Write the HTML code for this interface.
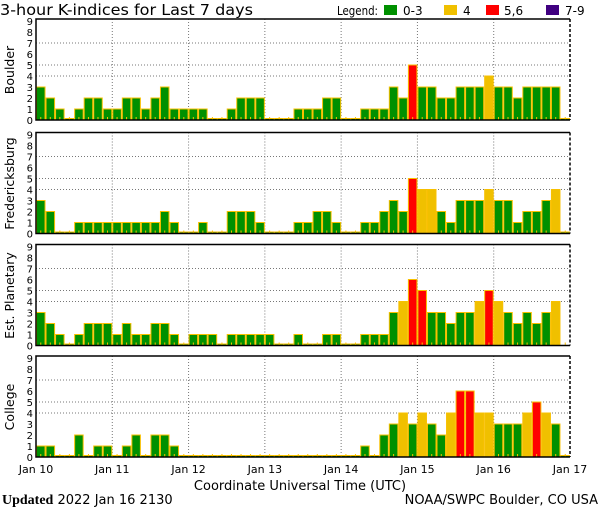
<!DOCTYPE html>
<html><head><meta charset="utf-8"><style>
body{margin:0;background:#fff;}
svg{display:block;font-family:"DejaVu Sans","Liberation Sans",sans-serif;}
</style></head><body>
<svg id="c" width="600" height="510" viewBox="0 0 600 510">
<text x="0" y="15" font-size="15.5" textLength="253" lengthAdjust="spacingAndGlyphs">3-hour K-indices for Last 7 days</text>
<g font-size="12">
<text x="337" y="15" textLength="41" lengthAdjust="spacingAndGlyphs">Legend:</text>
<rect x="384" y="5" width="13" height="10" fill="#009000"/>
<text x="403" y="15">0-3</text>
<rect x="444" y="5" width="13" height="10" fill="#f0c000"/>
<text x="463" y="15">4</text>
<rect x="486" y="5" width="13" height="10" fill="#ff0000"/>
<text x="504" y="15">5,6</text>
<rect x="546" y="5" width="13" height="10" fill="#400080"/>
<text x="565" y="15">7-9</text>
</g>
<text x="300" y="490" font-size="13" text-anchor="middle">Coordinate Universal Time (UTC)</text>
<text x="2" y="504" font-size="13"><tspan font-family="Liberation Serif,serif" font-weight="bold" font-size="14">Updated</tspan> 2022 Jan 16 2130</text>
<text x="598" y="504" font-size="13" text-anchor="end">NOAA/SWPC Boulder, CO USA</text>
</svg>
<script>
const stations = ["Boulder","Fredericksburg","Est. Planetary","College"];
const boulder = [3,2,1,0,1,2,2,1,1,2,2,1,2,3,1,1,1,1,0,0,1,2,2,2,0,0,0,1,1,1,2,2,0,0,1,1,1,3,2,5,3,3,2,2,3,3,3,4,3,3,2,3,3,3,3,0];
const fredericksburg = [3,2,0,0,1,1,1,1,1,1,1,1,1,2,1,0,0,1,0,0,2,2,2,1,0,0,0,1,1,2,2,1,0,0,1,1,2,3,2,5,4,4,2,1,3,3,3,4,3,3,1,2,2,3,4,0];
const planetary = [3,2,1,0,1,2,2,2,1,2,1,1,2,2,1,0,1,1,1,0,1,1,1,1,1,0,0,1,0,0,1,1,0,0,1,1,1,3,4,6,5,3,3,2,3,3,4,5,4,3,2,3,2,3,4,null];
const college = [1,1,0,0,2,0,1,1,0,1,2,0,2,2,1,0,0,0,0,0,0,0,0,0,0,0,0,0,0,0,0,0,0,0,1,0,2,3,4,3,4,3,2,4,6,6,4,4,3,3,3,4,5,4,3,0];
const series = [boulder,fredericksburg,planetary,college];
const dayLabels = ["Jan 10","Jan 11","Jan 12","Jan 13","Jan 14","Jan 15","Jan 16","Jan 17"];
const yTicks = [0,1,2,3,4,5,6,7,8,9];
const gridLevels = [4,5,7];

const svg = document.getElementById('c');
const NS = "http://www.w3.org/2000/svg";
const X0 = 36, X1 = 570, NB = 56, UNIT = 11;
const zeros = [120,233.5,345.5,457];
const bw = (X1 - X0) / NB;
function xs(i){ return X0 + i * bw; }
function mk(t, a, p){ const e = document.createElementNS(NS, t); for (const k in a) e.setAttribute(k, a[k]); (p || svg).appendChild(e); return e; }
function color(v){ return v >= 7 ? "#400080" : v >= 5 ? "#ff0000" : v === 4 ? "#f0c000" : "#009000"; }

series.forEach((data, p) => {
  const z = zeros[p];
  const ys = v => z - v * UNIT;
  const top = z - 101;
  const g = mk('g', {});
  
  
  gridLevels.forEach(l => {
    const ln = mk('line', {x1: X0, x2: X1, y1: ys(l), y2: ys(l), stroke: "#777", "stroke-dasharray": "1,2"}, g);
    
    
  });
  for (let d = 1; d < 7; d++) {
    const ln = mk('line', {x1: xs(d*8), x2: xs(d*8), y1: top, y2: z, stroke: "#777", "stroke-dasharray": "1,2"}, g);
    
    
  }
  data.forEach((v, i) => {
    if (v === null) return;
    const h = v === 0 ? 1.5 : v * UNIT;
    const r = mk('rect', {x: xs(i) + 0.5, y: z - h, width: bw - 1, height: h, fill: color(v), stroke: "#f8c000", "stroke-width": 1}, g);
    
    
  });
  for (let i = 0; i < NB; i++) {
    const t = mk('line', {x1: xs(i) + bw/2, x2: xs(i) + bw/2, y1: z - 3, y2: z, stroke: "#f8c000", "stroke-width": 1}, g);
    
    
  }
  const fr = mk('path', {d: `M${X1},${top}H${X0}V${z}H${X1}`, fill: "none", stroke: "#000", "stroke-width": 1.5}, g);
  
  
  const rb = mk('line', {x1: X1, x2: X1, y1: top, y2: z, stroke: "#000", "stroke-width": 1.5, "stroke-dasharray": "3,2"}, g);
  
  
  yTicks.forEach(t => {
    const tx = mk('text', {x: 33, y: ys(t) + 4, "font-size": 10, "text-anchor": "end"}, g);
    tx.textContent = t;
    
    
  });
  const cy = z - 50;
  const lb = mk('text', {x: 14, y: cy, "font-size": 12.5, "text-anchor": "middle", transform: `rotate(-90 14 ${cy})`}, g);
  lb.textContent = stations[p];
  
  
});
dayLabels.forEach((d, i) => {
  const t = mk('text', {x: xs(i*8), y: 473, "font-size": 11, "text-anchor": "middle"});
  t.textContent = d;
  
  
});
</script>
</body></html>
